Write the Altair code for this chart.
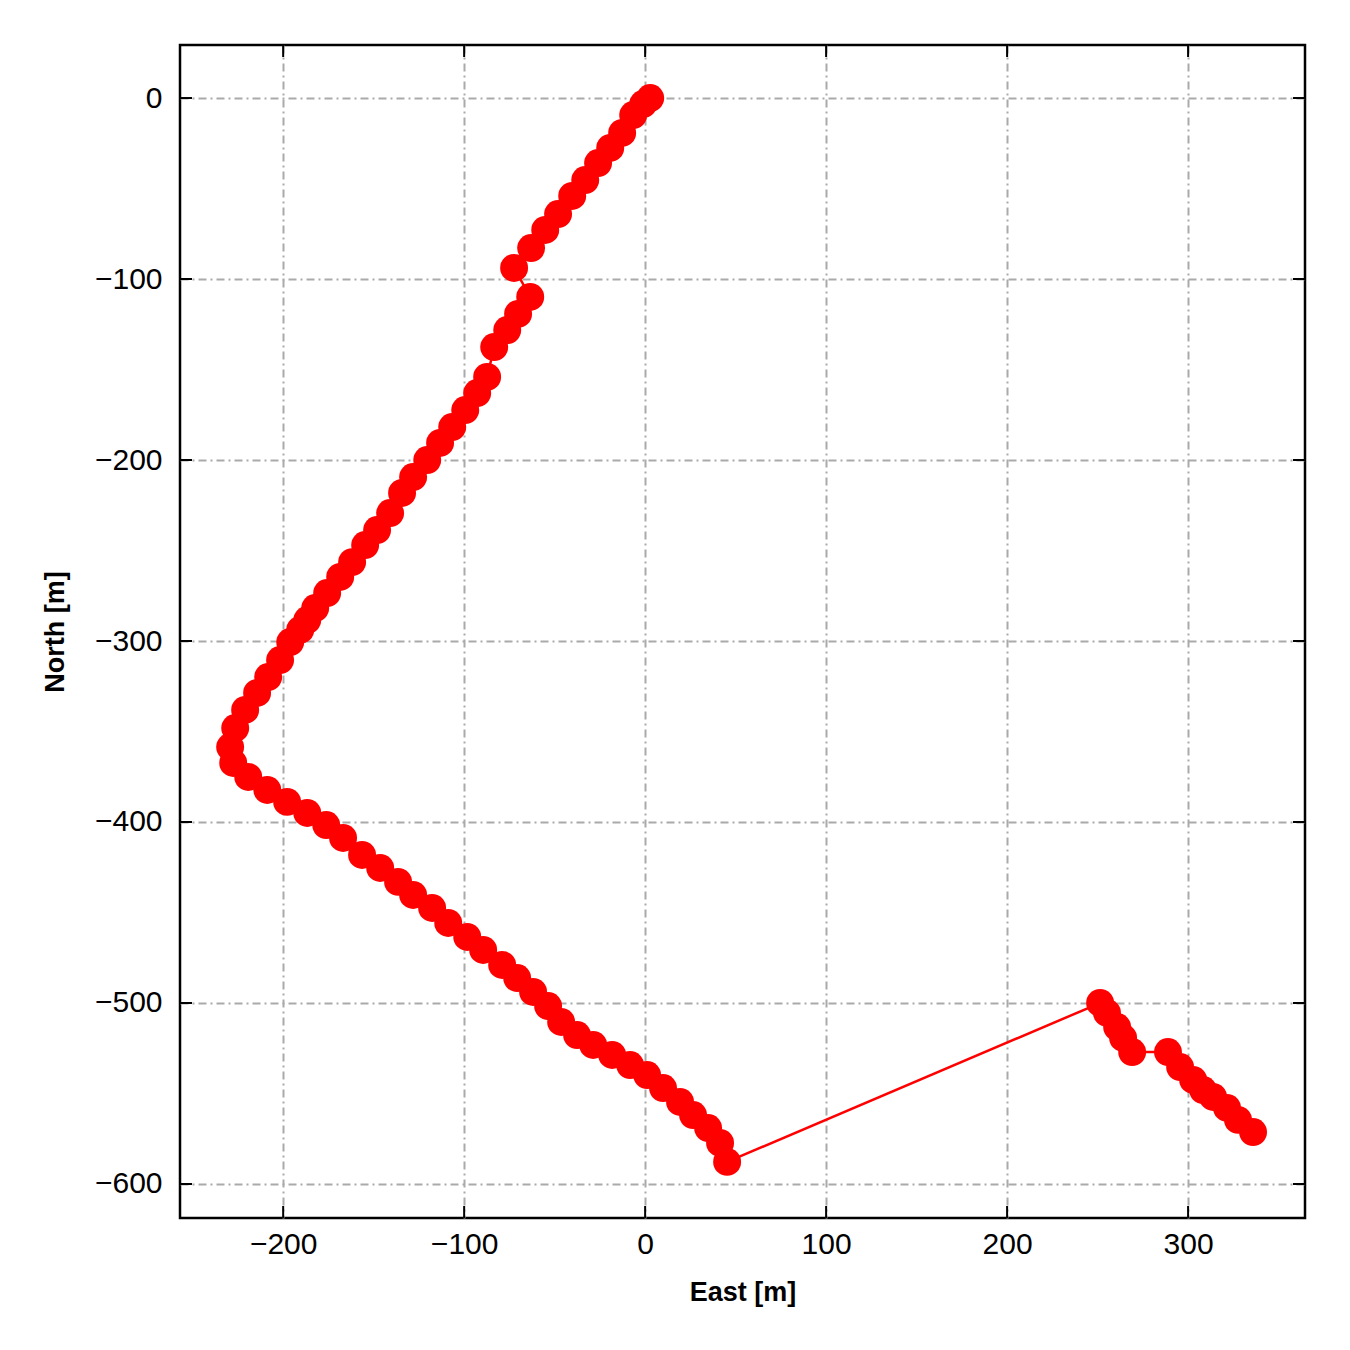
import altair as alt
import pandas as pd

east = [2.8, -1.1, -6.6, -12.7, -19.3, -26.0, -33.1, -40.3, -48.1, -55.2, -63.0, -72.4,
        -63.5, -70.2, -76.2, -83.4, -87.3, -92.8, -99.4, -106.6, -113.3, -120.4, -128.2,
        -134.3, -140.9, -148.1, -154.7, -161.9, -168.5, -175.7, -182.3, -186.7, -190.6,
        -196.1, -201.7, -208.3, -214.4, -221.0, -226.5, -229.3, -227.6, -219.3, -208.8,
        -197.8, -186.7, -176.2, -166.9, -156.4, -146.4, -136.5, -128.2, -117.7, -108.8,
        -98.3, -89.5, -79.0, -70.7, -61.9, -53.6, -46.4, -37.6, -28.7, -18.2, -8.3, 1.1,
        9.9, 19.3, 26.5, 34.8, 41.4, 45.3,
        251.4, 255.2, 260.8, 264.1, 269.1, 288.9, 295.6, 302.8, 308.3, 313.8, 321.5, 327.6, 335.9]
north = [0.0, -3.3, -9.4, -19.3, -27.6, -35.9, -45.3, -54.1, -64.1, -72.9, -82.9, -93.9,
         -109.9, -119.3, -128.2, -137.6, -154.1, -163.0, -172.4, -181.8, -190.6, -200.0, -209.4,
         -218.2, -229.3, -238.7, -247.0, -256.4, -264.6, -273.5, -281.8, -288.4, -293.9,
         -300.6, -310.5, -319.9, -328.7, -338.1, -348.1, -358.6, -367.4, -375.1, -382.3,
         -388.9, -395.0, -401.7, -408.8, -418.2, -425.4, -433.1, -440.3, -447.5, -455.8,
         -463.5, -470.7, -479.0, -486.2, -493.9, -501.7, -510.5, -517.7, -523.2, -528.7, -534.3, -539.8,
         -547.0, -554.7, -561.9, -569.1, -577.3, -587.8,
         -500.0, -505.5, -513.3, -519.3, -527.1, -527.1, -535.4, -542.5, -548.1, -551.9, -558.0, -564.6, -571.3]

x_ticks = [-200, -100, 0, 100, 200, 300]
y_ticks = [0, -100, -200, -300, -400, -500, -600]
x_domain = [-257, 364.6]
y_domain = [-618.8, 29.3]

W, H = 1125, 1173

df = pd.DataFrame({"east": east, "north": north, "idx": list(range(len(east)))})

xs = alt.Scale(domain=x_domain, nice=False, zero=False)
ys = alt.Scale(domain=y_domain, nice=False, zero=False)

grid_kw = dict(grid=True, gridColor="#aaaaaa", gridDash=[8, 4, 2, 4], gridWidth=2,
               ticks=False, domain=False, labelFont="Liberation Sans", labelFontSize=30,
               labelColor="black", titleFont="Liberation Sans", titleFontSize=27,
               titleFontWeight="bold", titleColor="black")

xax = alt.Axis(values=x_ticks, title="East [m]", labelPadding=11, titlePadding=20, **grid_kw)
yax = alt.Axis(values=y_ticks, title="North [m]", labelPadding=18, titlePadding=25, **grid_kw)

base = alt.Chart(df)
line = base.mark_line(color="#ff0000", strokeWidth=2.5).encode(
    x=alt.X("east:Q", scale=xs, axis=xax),
    y=alt.Y("north:Q", scale=ys, axis=yax),
    order="idx:Q",
)
pts = base.mark_circle(color="#ff0000", size=780, opacity=1).encode(
    x=alt.X("east:Q", scale=xs),
    y=alt.Y("north:Q", scale=ys),
)

TL = 12
xt = pd.DataFrame({"v": x_ticks})
yt = pd.DataFrame({"v": y_ticks})
xtick_b = alt.Chart(xt).mark_rule(color="black", strokeWidth=2).encode(
    x=alt.X("v:Q", scale=xs), y=alt.value(H), y2=alt.value(H - TL))
xtick_t = alt.Chart(xt).mark_rule(color="black", strokeWidth=2).encode(
    x=alt.X("v:Q", scale=xs), y=alt.value(0), y2=alt.value(TL))
ytick_l = alt.Chart(yt).mark_rule(color="black", strokeWidth=2).encode(
    y=alt.Y("v:Q", scale=ys), x=alt.value(0), x2=alt.value(TL))
ytick_r = alt.Chart(yt).mark_rule(color="black", strokeWidth=2).encode(
    y=alt.Y("v:Q", scale=ys), x=alt.value(W), x2=alt.value(W - TL))

chart = alt.layer(line, pts, xtick_b, xtick_t, ytick_l, ytick_r).properties(
    width=W, height=H,
    background="white",
    autosize=alt.AutoSizeParams(type="none"),
    padding={"left": 172, "top": 37, "right": 30, "bottom": 120},
).configure_view(stroke="black", strokeWidth=2.5)

chart.save("out.html", embed_options={"renderer": "svg", "actions": False})
